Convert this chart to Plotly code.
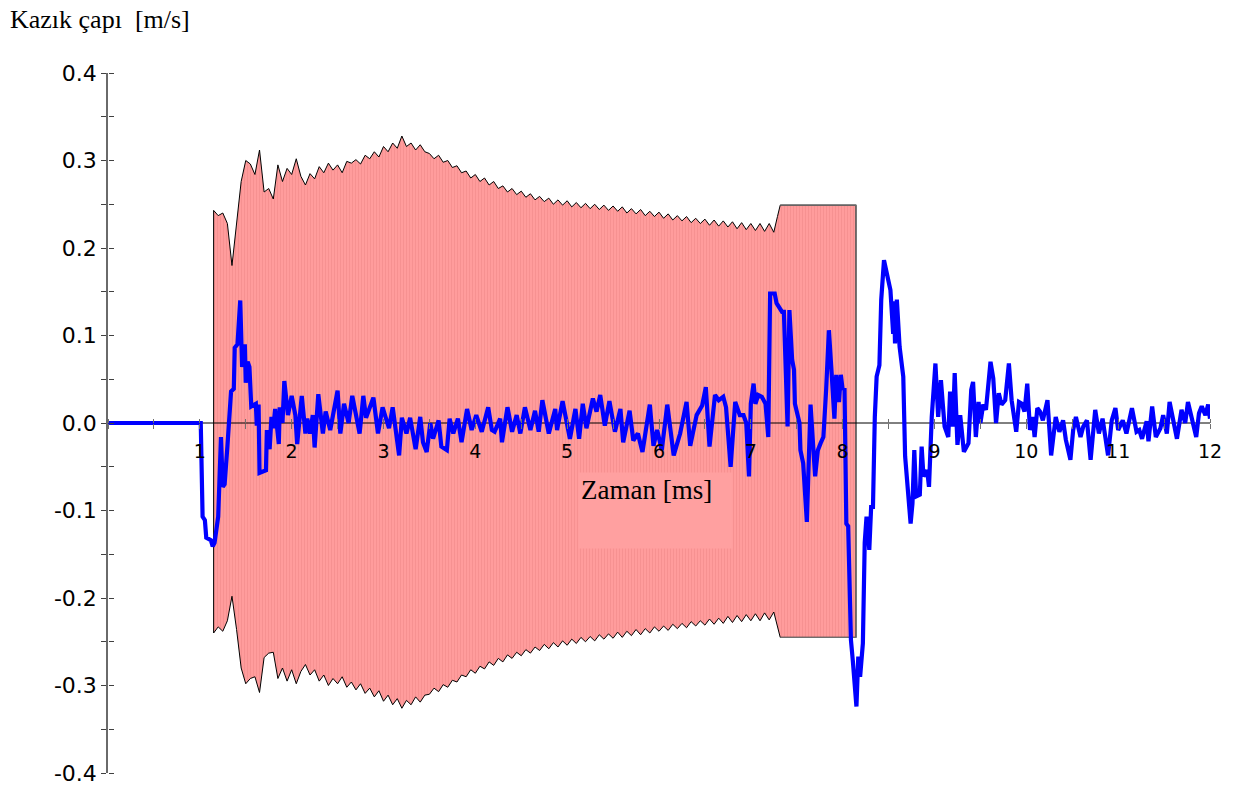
import plotly.graph_objects as go

# ---------------- data ----------------
x_range = [0, 12]
y_range = [-0.4, 0.4]
x_ticks = [1, 2, 3, 4, 5, 6, 7, 8, 9, 10, 11, 12]
x_labels = ["1", "2", "3", "4", "5", "6", "7", "8", "9", "10", "11", "12"]
y_ticks = [-0.4, -0.3, -0.2, -0.1, 0.0, 0.1, 0.2, 0.3, 0.4]
y_labels = ["-0.4", "-0.3", "-0.2", "-0.1", "0.0", "0.1", "0.2", "0.3", "0.4"]

y_title = "Kazık çapı  [m/s]"
x_title = "Zaman [ms]"

# envelope (pink band)
env_x = [
    1.15, 1.20, 1.25, 1.30, 1.35, 1.40, 1.45, 1.50, 1.55, 1.60,
    1.65, 1.70, 1.75, 1.80, 1.85, 1.90, 1.95, 2.00, 2.05, 2.10,
    2.15, 2.20, 2.25, 2.30, 2.35, 2.40, 2.45, 2.50, 2.55, 2.60,
    2.65, 2.70, 2.75, 2.80, 2.85, 2.90, 2.95, 3.00, 3.05, 3.10,
    3.15, 3.20, 3.25, 3.30, 3.35, 3.40, 3.45, 3.50, 3.55, 3.60,
    3.65, 3.70, 3.75, 3.80, 3.85, 3.90, 3.95, 4.00, 4.05, 4.10,
    4.15, 4.20, 4.25, 4.30, 4.35, 4.40, 4.45, 4.50, 4.55, 4.60,
    4.65, 4.70, 4.75, 4.80, 4.85, 4.90, 4.95, 5.00, 5.05, 5.10,
    5.15, 5.20, 5.25, 5.30, 5.35, 5.40, 5.45, 5.50, 5.55, 5.60,
    5.65, 5.70, 5.75, 5.80, 5.85, 5.90, 5.95, 6.00, 6.05, 6.10,
    6.15, 6.20, 6.25, 6.30, 6.35, 6.40, 6.45, 6.50, 6.55, 6.60,
    6.65, 6.70, 6.75, 6.80, 6.85, 6.90, 6.95, 7.00, 7.05, 7.10,
    7.15, 7.20, 7.25, 7.29, 7.32, 8.145,
]
env_top = [
    0.243, 0.237, 0.240, 0.228, 0.180, 0.230, 0.276, 0.300, 0.296, 0.284,
    0.312, 0.264, 0.268, 0.256, 0.295, 0.276, 0.291, 0.284, 0.302, 0.282,
    0.272, 0.285, 0.279, 0.293, 0.286, 0.297, 0.289, 0.295, 0.286, 0.299,
    0.297, 0.301, 0.296, 0.306, 0.302, 0.310, 0.304, 0.316, 0.310, 0.320,
    0.314, 0.328, 0.316, 0.320, 0.312, 0.318, 0.310, 0.308, 0.302, 0.306,
    0.298, 0.300, 0.292, 0.294, 0.286, 0.288, 0.280, 0.284, 0.276, 0.280,
    0.272, 0.276, 0.268, 0.271, 0.264, 0.268, 0.261, 0.265, 0.258, 0.262,
    0.255, 0.259, 0.253, 0.257, 0.250, 0.255, 0.249, 0.254, 0.247, 0.252,
    0.246, 0.251, 0.245, 0.250, 0.244, 0.249, 0.243, 0.248, 0.242, 0.247,
    0.240, 0.245, 0.239, 0.244, 0.237, 0.242, 0.236, 0.241, 0.234, 0.239,
    0.232, 0.237, 0.231, 0.236, 0.229, 0.234, 0.228, 0.233, 0.226, 0.232,
    0.225, 0.231, 0.224, 0.230, 0.222, 0.229, 0.221, 0.228, 0.220, 0.228,
    0.219, 0.228, 0.218, 0.236, 0.249, 0.249,
]
env_bottom = [
    -0.240, -0.233, -0.238, -0.226, -0.198, -0.236, -0.280, -0.298, -0.292, -0.290,
    -0.308, -0.268, -0.263, -0.262, -0.292, -0.280, -0.295, -0.282, -0.298, -0.284,
    -0.276, -0.288, -0.282, -0.295, -0.288, -0.300, -0.292, -0.298, -0.290, -0.302,
    -0.296, -0.305, -0.298, -0.309, -0.303, -0.313, -0.306, -0.318, -0.311, -0.322,
    -0.315, -0.326, -0.317, -0.322, -0.313, -0.319, -0.311, -0.310, -0.303, -0.307,
    -0.299, -0.302, -0.294, -0.296, -0.288, -0.290, -0.282, -0.286, -0.278, -0.281,
    -0.273, -0.277, -0.269, -0.273, -0.265, -0.269, -0.262, -0.266, -0.259, -0.263,
    -0.256, -0.260, -0.253, -0.258, -0.251, -0.256, -0.249, -0.254, -0.247, -0.252,
    -0.245, -0.250, -0.244, -0.249, -0.242, -0.247, -0.241, -0.246, -0.239, -0.245,
    -0.238, -0.243, -0.236, -0.242, -0.235, -0.240, -0.233, -0.238, -0.232, -0.237,
    -0.230, -0.235, -0.229, -0.234, -0.227, -0.232, -0.226, -0.231, -0.224, -0.230,
    -0.223, -0.229, -0.221, -0.228, -0.220, -0.227, -0.219, -0.226, -0.218, -0.226,
    -0.217, -0.225, -0.216, -0.232, -0.245, -0.245,
]

# pile velocity signal
vel_t = [
    0.00, 1.01, 1.03, 1.055, 1.07, 1.12, 1.14, 1.16, 1.20, 1.23, 1.25, 1.27, 1.30, 1.32,
    1.34, 1.37, 1.38, 1.41, 1.44, 1.46, 1.49, 1.50, 1.52, 1.54, 1.56, 1.61, 1.62, 1.64,
    1.65, 1.72, 1.73, 1.76, 1.78, 1.80, 1.82, 1.86, 1.87, 1.90, 1.92, 1.96, 2.00, 2.04,
    2.06, 2.11, 2.15, 2.17, 2.20, 2.23, 2.25, 2.29, 2.34, 2.37, 2.42, 2.50, 2.53, 2.57,
    2.62, 2.66, 2.74, 2.78, 2.81, 2.89, 2.94, 2.99, 3.06, 3.10, 3.17, 3.20, 3.25, 3.29,
    3.35, 3.40, 3.43, 3.47, 3.51, 3.54, 3.60, 3.63, 3.69, 3.72, 3.76, 3.81, 3.85, 3.91,
    3.96, 4.01, 4.07, 4.14, 4.18, 4.21, 4.27, 4.29, 4.35, 4.40, 4.45, 4.49, 4.54, 4.60,
    4.65, 4.69, 4.73, 4.80, 4.87, 4.89, 4.95, 5.03, 5.09, 5.13, 5.17, 5.21, 5.28, 5.32,
    5.36, 5.41, 5.46, 5.52, 5.58, 5.61, 5.68, 5.72, 5.77, 5.82, 5.90, 5.94, 5.98, 6.03,
    6.09, 6.16, 6.23, 6.30, 6.34, 6.41, 6.47, 6.51, 6.55, 6.61, 6.65, 6.70, 6.73, 6.78,
    6.83, 6.88, 6.92, 6.95, 6.98, 7.00, 7.03, 7.05, 7.08, 7.12, 7.16, 7.19, 7.21, 7.26,
    7.28, 7.34, 7.36, 7.40, 7.42, 7.45, 7.47, 7.48, 7.53, 7.54, 7.57, 7.61, 7.65, 7.70,
    7.73, 7.76, 7.79, 7.82, 7.85, 7.88, 7.91, 7.93, 7.96, 7.98, 8.00, 8.02, 8.04, 8.06,
    8.09, 8.11, 8.15, 8.17, 8.19, 8.22, 8.24, 8.26, 8.29, 8.31, 8.33, 8.35, 8.37, 8.40,
    8.42, 8.45, 8.48, 8.52, 8.55, 8.56, 8.57, 8.59, 8.62, 8.65, 8.66, 8.68, 8.70, 8.74,
    8.76, 8.78, 8.80, 8.84, 8.86, 8.88, 8.92, 8.94, 8.97, 9.01, 9.04, 9.07, 9.09, 9.11,
    9.15, 9.17, 9.20, 9.22, 9.25, 9.28, 9.32, 9.37, 9.40, 9.42, 9.45, 9.48, 9.50, 9.53,
    9.56, 9.61, 9.64, 9.67, 9.70, 9.73, 9.77, 9.81, 9.84, 9.89, 9.92, 9.95, 9.98, 10.01,
    10.04, 10.07, 10.09, 10.12, 10.15, 10.18, 10.23, 10.27, 10.32, 10.36, 10.40, 10.43,
    10.48, 10.51, 10.54, 10.59, 10.62, 10.66, 10.70, 10.75, 10.79, 10.83, 10.86, 10.89,
    10.93, 10.97, 11.00, 11.05, 11.09, 11.15, 11.20, 11.23, 11.26, 11.31, 11.33, 11.37,
    11.41, 11.46, 11.49, 11.53, 11.56, 11.60, 11.64, 11.69, 11.73, 11.76, 11.80, 11.85,
    11.88, 11.91, 11.95, 11.98, 12.00,
]
vel_v = [
    0.000, 0.000, -0.107, -0.111, -0.131, -0.134, -0.141, -0.137, -0.107, -0.016, -0.073, -0.070, -0.027, 0.000,
    0.036, 0.039, 0.086, 0.090, 0.140, 0.064, 0.090, 0.046, 0.070, 0.064, 0.019, 0.022, -0.003, 0.021,
    -0.057, -0.054, -0.008, -0.030, 0.007, -0.006, 0.016, -0.024, 0.018, 0.000, 0.048, 0.009, 0.031, 0.009,
    -0.024, 0.031, -0.012, 0.005, -0.012, 0.009, -0.028, 0.033, -0.012, 0.013, -0.008, 0.037, -0.012, 0.022,
    0.000, 0.031, -0.012, 0.031, 0.006, 0.029, -0.012, 0.018, -0.006, 0.018, -0.037, 0.006, -0.012, 0.006,
    -0.030, 0.007, -0.022, -0.033, 0.000, -0.018, 0.003, -0.027, -0.031, 0.005, -0.012, 0.005, -0.022, 0.016,
    -0.008, 0.009, -0.010, 0.018, -0.008, -0.010, 0.005, -0.022, 0.018, -0.010, 0.009, -0.012, 0.018, -0.008,
    0.014, -0.010, 0.026, -0.012, 0.016, -0.008, 0.025, -0.018, 0.016, -0.018, 0.022, -0.006, 0.028, 0.013,
    0.032, -0.003, 0.025, -0.010, 0.016, -0.022, 0.014, -0.020, -0.012, -0.033, 0.021, -0.026, -0.008, -0.031,
    0.021, -0.037, -0.012, 0.024, -0.026, 0.009, 0.020, 0.041, -0.027, 0.032, 0.026, 0.030, 0.018, -0.050,
    0.024, 0.009, 0.009, 0.000, -0.061, 0.022, 0.045, 0.022, 0.032, 0.030, 0.022, -0.016, 0.148, 0.148,
    0.137, 0.127, 0.127, -0.004, 0.129, 0.072, 0.061, 0.022, 0.000, -0.031, -0.046, -0.113, 0.021, -0.061,
    -0.031, -0.023, -0.016, 0.038, 0.106, 0.057, 0.005, 0.055, 0.024, 0.055, 0.038, 0.040, -0.115, -0.118,
    -0.248, -0.271, -0.324, -0.267, -0.290, -0.252, -0.137, -0.107, -0.145, -0.096, -0.096, 0.007, 0.053, 0.066,
    0.141, 0.186, 0.171, 0.152, 0.102, 0.139, 0.091, 0.141, 0.087, 0.053, 0.053, -0.038, -0.061, -0.115,
    -0.092, -0.031, -0.084, -0.082, -0.027, -0.061, -0.054, -0.073, 0.007, 0.068, 0.007, 0.049, 0.022, -0.004,
    -0.016, 0.036, -0.004, 0.057, -0.025, 0.009, -0.033, -0.023, 0.038, 0.047, -0.016, 0.024, 0.000, 0.021,
    0.015, 0.070, 0.051, 0.000, 0.034, 0.021, 0.026, 0.068, 0.026, -0.010, 0.024, 0.022, 0.013, 0.045,
    -0.008, 0.007, -0.016, 0.017, 0.013, 0.003, 0.026, -0.037, 0.007, -0.010, 0.003, -0.019,
    -0.042, -0.008, 0.007, -0.016, -0.004, 0.003, -0.042, 0.015, -0.012, 0.005, -0.016, -0.037,
    0.003, 0.017, -0.008, 0.003, -0.012, 0.017, -0.010, -0.008, -0.018, 0.002, -0.021, 0.019,
    -0.016, -0.006, 0.009, -0.012, 0.024, 0.003, -0.018, 0.015, 0.000, 0.024, 0.005, -0.016,
    0.011, 0.019, 0.009, 0.021, 0.005,
]

assert len(env_x) == len(env_top) == len(env_bottom)
assert len(vel_t) == len(vel_v)

# ---------------- figure ----------------
fig = go.Figure()

# pink striped envelope
poly_x = env_x + env_x[::-1] + [env_x[0]]
poly_y = env_top + env_bottom[::-1] + [env_top[0]]
fig.add_trace(go.Scatter(
    x=poly_x, y=poly_y, mode="lines", fill="toself",
    fillcolor="#FF9A9A",
    fillpattern=dict(shape="|", bgcolor="#FF9C9C", fgcolor="#EC8282", size=3, solidity=0.3),
    line=dict(color="black", width=1), hoverinfo="skip",
))
# flat part outlined in grey
fig.add_trace(go.Scatter(
    x=[env_x[-2], env_x[-1], env_x[-1], env_x[-2]],
    y=[env_top[-2], env_top[-1], env_bottom[-1], env_bottom[-2]],
    mode="lines", line=dict(color="#6e6e6e", width=1.3), hoverinfo="skip",
))
# zero line (time axis line)
fig.add_trace(go.Scatter(
    x=x_range, y=[0, 0], mode="lines", line=dict(color="black", width=1), hoverinfo="skip",
))
# velocity signal
fig.add_trace(go.Scatter(
    x=vel_t, y=vel_v, mode="lines", line=dict(color="#0000FF", width=4.2), hoverinfo="skip",
))
# invisible trace to activate the mirrored tick axes
fig.add_trace(go.Scatter(
    x=[x_range[0]], y=[0], mode="markers", marker=dict(opacity=0, size=1),
    xaxis="x2", yaxis="y2", hoverinfo="skip",
))

tick_font_x = dict(family="DejaVu Sans", size=19, color="black")
tick_font_y = dict(family="DejaVu Sans", size=22, color="black")

fig.update_layout(
    width=1236, height=786,
    margin=dict(l=108, r=26, t=73, b=13, autoexpand=False),
    paper_bgcolor="white", plot_bgcolor="white",
    showlegend=False,
    xaxis=dict(
        range=x_range, anchor="free", position=0.5, side="bottom", automargin=False,
        showline=False, showgrid=False, zeroline=False,
        tickmode="array", tickvals=x_ticks, ticktext=x_labels,
        ticks="outside", ticklen=5, tickcolor="#707070", tickwidth=1,
        minor=dict(tick0=0, dtick=0.5, ticks="outside", ticklen=5, tickcolor="#707070", showgrid=False),
        tickfont=tick_font_x, ticklabelstandoff=6,
    ),
    xaxis2=dict(
        range=x_range, overlaying="x", anchor="free", position=0.5, side="top", automargin=False,
        showline=False, showgrid=False, zeroline=False, showticklabels=False,
        tickmode="array", tickvals=x_ticks,
        ticks="outside", ticklen=4, tickcolor="#707070", tickwidth=1,
        minor=dict(tick0=0, dtick=0.5, ticks="outside", ticklen=4, tickcolor="#707070", showgrid=False),
    ),
    yaxis=dict(
        range=y_range, showline=True, linecolor="#6a6a6a", linewidth=1.5, automargin=False,
        showgrid=False, zeroline=False,
        tickmode="array", tickvals=y_ticks, ticktext=y_labels,
        ticks="outside", ticklen=5, tickcolor="#404040", tickwidth=1,
        minor=dict(tick0=-0.4, dtick=0.05, ticks="outside", ticklen=5, tickcolor="#404040", showgrid=False),
        tickfont=tick_font_y,
    ),
    yaxis2=dict(
        range=y_range, overlaying="y", anchor="free", position=0, side="right", automargin=False,
        showline=False, showgrid=False, zeroline=False, showticklabels=False,
        tickmode="array", tickvals=y_ticks,
        ticks="outside", ticklen=5, tickcolor="#404040", tickwidth=1,
        minor=dict(tick0=-0.4, dtick=0.05, ticks="outside", ticklen=5, tickcolor="#404040", showgrid=False),
    ),
    annotations=[
        dict(text=y_title, xref="paper", yref="paper", x=-0.0907, y=1.077,
             xanchor="left", yanchor="middle", showarrow=False,
             font=dict(family="Liberation Serif", size=26, color="black")),
        dict(text=x_title, xref="x", yref="y", x=5.118, y=-0.056,
             xanchor="left", yanchor="top", showarrow=False,
             width=149, height=71, align="left", valign="top",
             bgcolor="#FFA0A0", borderpad=2,
             font=dict(family="Liberation Serif", size=27, color="black")),
    ],
)

fig.write_html("out.html")
